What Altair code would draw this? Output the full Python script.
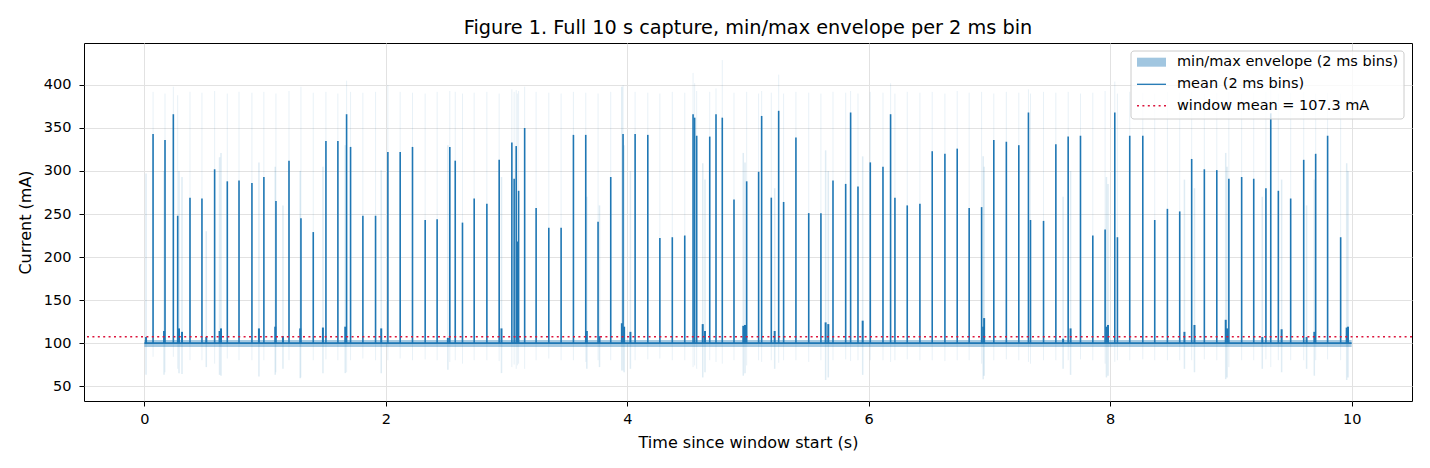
import altair as alt
import pandas as pd

# ---------------- text ----------------
TITLE = "Figure 1. Full 10 s capture, min/max envelope per 2 ms bin"
X_TITLE = "Time since window start (s)"
Y_TITLE = "Current (mA)"
X_TICKS = [0, 2, 4, 6, 8, 10]
Y_TICKS = [50, 100, 150, 200, 250, 300, 350, 400]
LEGEND_LABELS = ["min/max envelope (2 ms bins)", "mean (2 ms bins)", "window mean = 107.3 mA"]
WINDOW_MEAN = [107.3]

# ---------------- baseline (quiet current between events) ----------------
BASE_T = [0.0, 10.0]
BASE_MEAN = [100.0, 100.0]
BAND_LO = [95.5, 95.5]
BAND_HI = [103.5, 103.5]

# ---------------- large current spikes (mean of 2 ms bin) ----------------
SPIKE_T = [0.072, 0.171, 0.240, 0.276, 0.378, 0.477, 0.582, 0.687, 0.784, 0.891,
           0.990, 1.090, 1.198, 1.297, 1.399, 1.504, 1.603, 1.675, 1.708, 1.810,
           1.915, 2.017, 2.119, 2.221, 2.326, 2.425, 2.530, 2.575, 2.635, 2.732,
           2.837, 2.939, 3.044, 3.063, 3.080, 3.090, 3.100, 3.150, 3.245, 3.350,
           3.452, 3.554, 3.656, 3.758, 3.863, 3.965, 4.065, 4.170, 4.270, 4.373,
           4.476, 4.545, 4.558, 4.575, 4.683, 4.735, 4.787, 4.884, 4.989, 5.088,
           5.113, 5.193, 5.254, 5.295, 5.397, 5.503, 5.604, 5.704, 5.809, 5.850,
           5.911, 6.013, 6.118, 6.181, 6.217, 6.319, 6.424, 6.526, 6.631, 6.733,
           6.832, 6.935, 7.036, 7.140, 7.243, 7.323, 7.340, 7.448, 7.550, 7.652,
           7.754, 7.856, 7.958, 8.038, 8.060, 8.162, 8.270, 8.369, 8.474, 8.576,
           8.675, 8.780, 8.883, 8.983, 9.089, 9.189, 9.290, 9.330, 9.393, 9.495,
           9.603, 9.702, 9.801, 9.909]
SPIKE_PEAK = [343, 336, 366, 248, 269, 268, 302, 288, 289, 286,
              293, 265, 312, 245, 229, 335, 335, 366, 328, 248,
              248, 322, 322, 328, 243, 244, 328, 312, 240, 268,
              262, 313, 333, 291, 329, 218, 277, 350, 257, 234,
              234, 342, 342, 241, 293, 343, 343, 342, 222, 223,
              225, 366, 362, 341, 340, 366, 362, 267, 288, 299,
              364, 269, 370, 264, 339, 251, 251, 289, 285, 368,
              282, 310, 305, 366, 269, 260, 262, 323, 320, 326,
              257, 258, 336, 334, 330, 368, 243, 242, 331, 340,
              341, 225, 232, 368, 223, 341, 341, 243, 256, 253,
              314, 302, 301, 291, 293, 291, 280, 367, 277, 268,
              313, 320, 341, 223]
SPIKE_ENV_MAX = [392, 390, 398, 388, 392, 391, 393, 390, 392, 391,
                 392, 390, 393, 398, 391, 392, 390, 405, 392, 391,
                 392, 400, 392, 391, 390, 392, 393, 392, 390, 391,
                 392, 390, 395, 392, 394, 390, 393, 398, 392, 391,
                 390, 392, 391, 390, 392, 400, 392, 391, 390, 392,
                 391, 414, 402, 393, 392, 396, 429, 391, 392, 390,
                 393, 391, 412, 390, 392, 391, 390, 392, 391, 393,
                 390, 392, 391, 402, 390, 392, 391, 392, 390, 393,
                 391, 392, 390, 392, 391, 395, 390, 392, 391, 392,
                 390, 391, 393, 404, 390, 392, 391, 390, 392, 391,
                 392, 390, 391, 392, 390, 391, 392, 394, 390, 391,
                 392, 390, 391, 390]
SPIKE_ENV_MIN = [84, 66, 84, 70, 80, 80, 76, 82, 80, 80,
                 80, 66, 80, 60, 80, 81, 80, 66, 80, 82,
                 80, 80, 82, 80, 81, 80, 78, 80, 76, 80,
                 80, 79, 72, 75, 70, 74, 76, 70, 80, 82,
                 80, 80, 78, 80, 80, 68, 80, 81, 82, 80,
                 80, 72, 74, 70, 80, 78, 76, 80, 74, 80,
                 78, 80, 77, 80, 80, 78, 80, 80, 81, 79,
                 80, 80, 80, 78, 80, 81, 80, 80, 79, 80,
                 80, 76, 80, 81, 80, 78, 76, 80, 80, 80,
                 81, 80, 76, 78, 80, 80, 81, 80, 80, 80,
                 80, 81, 80, 72, 80, 80, 81, 72, 80, 80,
                 80, 80, 81, 80]

# ---------------- small bumps (short bursts, wide envelope) ----------------
BUMP_T = [0.014, 0.163, 0.287, 0.312, 0.513, 0.623, 0.635, 0.949, 1.084, 1.148,
          1.291, 1.479, 1.664, 1.962, 2.514, 2.958, 3.665, 3.770, 3.955, 3.974,
          4.026, 4.625, 4.644, 4.961, 4.975, 5.221, 5.643, 5.665, 5.950, 6.948,
          6.956, 7.610, 7.672, 7.969, 7.982, 8.615, 8.698, 8.957, 8.968, 9.260,
          9.420, 9.627, 9.691, 9.959, 9.970]
BUMP_PEAK = [107, 114, 117, 113, 107, 114, 117, 117, 119, 108,
             117, 118, 119, 117, 106, 117, 114, 108, 123, 119,
             113, 122, 114, 120, 121, 114, 124, 122, 126, 119,
             129, 105, 117, 119, 121, 113, 121, 127, 117, 107,
             116, 107, 113, 118, 119]
BUMP_ENV_MAX = [297, 300, 300, 293, 230, 316, 321, 310, 305, 260,
                300, 305, 330, 301, 330, 293, 270, 260, 398, 330,
                300, 309, 290, 321, 310, 280, 324, 300, 317, 317,
                305, 270, 300, 293, 285, 290, 280, 321, 305, 270,
                290, 260, 290, 309, 300]
BUMP_ENV_MIN = [63, 63, 65, 64, 72, 63, 62, 61, 63, 70,
                59, 65, 65, 65, 69, 65, 70, 72, 68, 66,
                70, 60, 66, 62, 65, 70, 57, 60, 63, 58,
                62, 70, 63, 60, 62, 70, 66, 58, 60, 70,
                66, 70, 62, 57, 60]

# ---------------- tables ----------------
base_df = pd.DataFrame({"t": BASE_T, "mean": BASE_MEAN, "lo": BAND_LO, "hi": BAND_HI})
spike_df = pd.DataFrame({"t": SPIKE_T, "peak": SPIKE_PEAK, "emax": SPIKE_ENV_MAX,
                         "emin": SPIKE_ENV_MIN, "base": [BASE_MEAN[0]] * len(SPIKE_T)})
bump_df = pd.DataFrame({"t": BUMP_T, "peak": BUMP_PEAK, "emax": BUMP_ENV_MAX,
                        "emin": BUMP_ENV_MIN, "base": [BASE_MEAN[0]] * len(BUMP_T)})
wm_df = pd.DataFrame({"v": WINDOW_MEAN})
one = pd.DataFrame({"k": [0]})

C0 = "#1f77b4"
RED = "#dc143c"
FONT = "DejaVu Sans"

xs = alt.Scale(domain=[-0.5, 10.5], nice=False, zero=False)
ys = alt.Scale(domain=[32.6, 448.8], nice=False, zero=False)
xa = alt.Axis(values=X_TICKS, title=X_TITLE, format="d", grid=True,
              labelPadding=6, titleX=664, titleY=46.5, titleBaseline="alphabetic",
              titleAlign="center", labelFlush=False)
ya = alt.Axis(values=Y_TICKS, title=Y_TITLE, format="d", grid=True,
              labelPadding=8, titleX=-54, titleY=179, titleBaseline="alphabetic",
              titleAlign="center", titleAngle=-90, labelFlush=False)


def X(f):
    return alt.X(f, type="quantitative", scale=xs, axis=xa)


def Y(f):
    return alt.Y(f, type="quantitative", scale=ys, axis=ya)


band = alt.Chart(base_df).mark_area(color=C0, opacity=0.4).encode(
    x=X("t"), y=Y("lo"), y2=alt.Y2("hi"))
spike_env = alt.Chart(spike_df).mark_rule(color=C0, opacity=0.1, strokeWidth=1).encode(
    x=X("t"), y=Y("emin"), y2=alt.Y2("emax"))
bump_env = alt.Chart(bump_df).mark_rule(color=C0, opacity=0.14, strokeWidth=1.5).encode(
    x=X("t"), y=Y("emin"), y2=alt.Y2("emax"))
mean_line = alt.Chart(base_df).mark_line(color=C0, strokeWidth=1.8).encode(
    x=X("t"), y=Y("mean"))
spikes = alt.Chart(spike_df).mark_rule(color=C0, strokeWidth=1.6).encode(
    x=X("t"), y=Y("base"), y2=alt.Y2("peak"))
bumps = alt.Chart(bump_df).mark_rule(color=C0, strokeWidth=2).encode(
    x=X("t"), y=Y("base"), y2=alt.Y2("peak"))
wmean = alt.Chart(wm_df).mark_rule(color=RED, strokeDash=[2, 3.4], strokeWidth=1.6).encode(
    y=Y("v"))

# ---------------- legend (drawn in the upper right of the plot) ----------------
leg_box = alt.Chart(one).mark_rect(fill="white", fillOpacity=0.8, stroke="#cccccc",
                                   strokeWidth=1, cornerRadius=3).encode(
    x=alt.value(1047), x2=alt.value(1320), y=alt.value(8), y2=alt.value(76))
leg_sw = alt.Chart(one).mark_rect(fill=C0, fillOpacity=0.42).encode(
    x=alt.value(1053), x2=alt.value(1082), y=alt.value(14.7), y2=alt.value(23.7))
leg_mean = alt.Chart(one).mark_rule(color=C0, strokeWidth=1.3).encode(
    x=alt.value(1053), x2=alt.value(1082), y=alt.value(41.3))
leg_wm = alt.Chart(one).mark_rule(color=RED, strokeDash=[2, 3.4], strokeWidth=1.6).encode(
    x=alt.value(1053), x2=alt.value(1082), y=alt.value(62.7))
leg_texts = [
    alt.Chart(one).mark_text(align="left", baseline="middle", font=FONT, fontSize=14.5,
                             color="black").encode(
        x=alt.value(1093), y=alt.value(yy), text=alt.value(lbl))
    for lbl, yy in zip(LEGEND_LABELS, [18.7, 41.3, 62.7])
]

chart = alt.layer(
    band, spike_env, bump_env, mean_line, spikes, bumps, wmean,
    leg_box, leg_sw, leg_mean, leg_wm, *leg_texts
).properties(
    width=1328, height=358,
    background="white",
    title=alt.TitleParams(TITLE, font=FONT, fontSize=19.3, fontWeight="normal", color="black",
                          anchor="middle", baseline="alphabetic", offset=10.5, dy=20.5),
    autosize=alt.AutoSizeParams(type="none"),
    padding={"left": 76, "top": 35, "right": 8, "bottom": 56},
).configure_view(
    stroke="black", strokeWidth=1
).configure_axis(
    labelFont=FONT, labelFontSize=14.5, labelColor="black",
    titleFont=FONT, titleFontSize=16, titleFontWeight="normal", titleColor="black",
    tickColor="black", tickSize=5, tickWidth=1, domain=False,
    gridColor="#e2e2e2", gridWidth=1
)

chart.save("out.html", embed_options={"renderer": "svg", "actions": False})
